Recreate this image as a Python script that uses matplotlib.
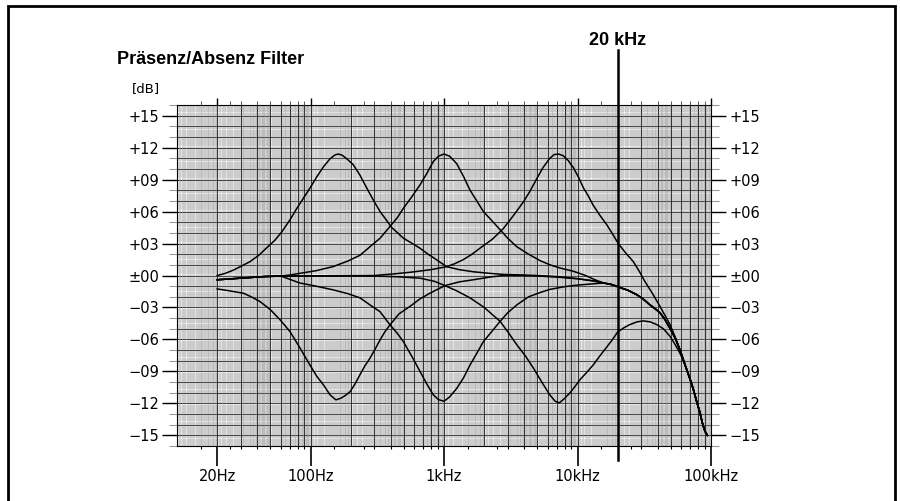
import numpy as np
import matplotlib
matplotlib.use('Agg')
import matplotlib.pyplot as plt
import matplotlib.transforms as mtransforms
from matplotlib.patches import Rectangle
from matplotlib.ticker import FixedLocator, NullFormatter

# ---- values (frequency in Hz, level in dB) ----
# shared start of the curves that sit on the 0 dB line at low frequencies
LOW_F = [20, 30, 45, 60]
LOW_DB = [-0.4, -0.25, -0.1, -0.05]
# shared high-frequency roll-off
HIGH_F = [15700, 18000, 20000, 24000, 27800, 31000, 34900, 38000, 41500, 45000, 49300, 54000,
          58600, 62000, 65800, 70000, 73800, 78000, 82800, 86000, 90000, 94000]
HIGH_DB = [-0.7, -0.85, -1.05, -1.4, -1.8, -2.2, -2.76, -3.1, -3.5, -4.1, -4.95, -5.9,
           -6.98, -7.9, -8.86, -9.8, -10.7, -11.8, -12.9, -13.8, -14.6, -15.0]

# boost / cut around 150 Hz
B1_F = [20, 23, 26.4, 30, 35.2, 41, 47, 54, 61, 70, 79, 89, 99, 112, 125, 140, 152, 161, 172, 185,
        209, 235, 264, 298, 332, 370, 406, 450, 496, 580, 661, 760, 850, 1047, 1300, 1660, 2200,
        2800, 3800, 5000, 7000, 10000, 13000]
B1_DB = [0.0, 0.2, 0.5, 0.85, 1.3, 1.9, 2.6, 3.3, 4.1, 5.2, 6.3, 7.3, 8.2, 9.3, 10.2, 10.95, 11.3, 11.4,
         11.3, 11.0, 10.4, 9.4, 8.2, 7.0, 6.0, 5.2, 4.5, 4.0, 3.5, 3.0, 2.56, 2.0, 1.6, 0.83, 0.55,
         0.35, 0.2, 0.1, 0.05, 0.0, -0.1, -0.3, -0.5]
C1_F = [20, 25, 31.4, 36, 41.9, 50, 59.2, 70.2, 83.4, 99, 112, 125, 140, 155, 170, 185, 198, 215,
        235, 255, 279, 305, 332, 360, 394, 460, 556, 660, 785, 1016, 1300, 1660, 2200, 2780, 3800,
        5000, 7000, 10000, 13000]
C1_DB = [-1.26, -1.45, -1.66, -2.0, -2.45, -3.2, -4.16, -5.26, -6.8, -8.4, -9.5, -10.26, -11.2, -11.67,
         -11.5, -11.2, -10.9, -10.2, -9.3, -8.5, -7.76, -6.9, -6.04, -5.3, -4.63, -3.6, -2.9, -2.2,
         -1.66, -0.95, -0.6, -0.4, -0.15, 0.0, 0.0, -0.05, -0.15, -0.3, -0.5]

# boost / cut around 1 kHz
B2_F = [70, 83, 110, 148, 190, 235, 279, 332, 394, 445, 496, 575, 661, 745, 832, 910, 1000, 1100,
        1245, 1400, 1567, 1760, 1973, 2300, 2632, 3000, 3510, 4300, 5240, 6224, 7400, 9300, 11500,
        13500]
B2_DB = [0.05, 0.2, 0.45, 0.84, 1.35, 1.9, 2.7, 3.5, 4.6, 5.4, 6.3, 7.4, 8.5, 9.6, 10.7, 11.2, 11.4,
         11.2, 10.5, 9.3, 8.0, 7.0, 6.0, 5.1, 4.3, 3.5, 2.7, 2.0, 1.4, 1.0, 0.7, 0.4, 0.0, -0.4]
C2_F = [83, 110, 148, 190, 235, 279, 332, 394, 445, 496, 575, 661, 745, 832, 910, 1000, 1100, 1245,
        1400, 1567, 1760, 1973, 2300, 2632, 3000, 3510, 4300, 5240, 6224, 8000, 10000, 12500]
C2_DB = [-0.7, -1.0, -1.35, -1.7, -2.1, -2.76, -3.4, -4.63, -5.4, -6.2, -7.6, -9.0, -10.2, -11.2,
         -11.65, -11.8, -11.4, -10.6, -9.6, -8.4, -7.3, -6.2, -5.2, -4.3, -3.5, -2.76, -2.0, -1.6,
         -1.3, -1.05, -0.9, -0.8]

# boost / cut around 7 kHz
B3_F = [300, 420, 556, 800, 1047, 1200, 1400, 1600, 1860, 2300, 2780, 3300, 3930, 4400, 4960, 5500,
        6200, 6700, 7200, 7800, 8500, 9330, 10200, 11100, 12000, 13100, 14800, 16600, 18300, 20200,
        23000, 26200, 29000, 32000, 36500, 41500, 45000, 49300, 54000, 58600, 65800, 73800]
B3_DB = [0.0, 0.15, 0.3, 0.55, 0.83, 1.1, 1.5, 1.95, 2.56, 3.4, 4.4, 5.6, 6.9, 7.9, 9.1, 10.1,
         11.0, 11.35, 11.4, 11.25, 10.8, 10.1, 9.2, 8.2, 7.5, 6.6, 5.6, 4.75, 3.9, 3.0,
         2.1, 1.3, 0.4, -0.57, -1.7, -2.9, -3.7, -4.6, -5.8, -7.0, -8.8, -10.7]
C3_F = [300, 450, 661, 850, 1016, 1250, 1567, 2000, 2632, 3050, 3510, 4100, 4680, 5400, 6200, 6800,
        7300, 7900, 8800, 9600, 10400, 11700, 13100, 14800, 16600, 18300, 20000, 22300, 24700,
        28000, 31100, 35000, 39200, 44000, 49300, 54000, 58600, 63000, 67700, 73800]
C3_DB = [-0.05, -0.12, -0.25, -0.55, -0.95, -1.45, -2.1, -3.0, -4.3, -5.4, -6.5, -7.6, -8.7, -10.0,
         -11.2, -11.8, -11.95, -11.6, -11.0, -10.4, -9.8, -9.1, -8.4, -7.5, -6.7, -6.0, -5.3, -4.9,
         -4.6, -4.35, -4.26, -4.35, -4.6, -5.0, -5.7, -6.5, -7.3, -8.2, -9.2, -10.7]

Y_TICKS = [15, 12, 9, 6, 3, 0, -3, -6, -9, -12, -15]
Y_LABELS = ['+15', '+12', '+09', '+06', '+03', '\u00b100', '\u221203', '\u221206', '\u221209', '\u221212', '\u221215']
X_TICKS = [20, 100, 1000, 10000, 100000]
X_LABELS = ['20Hz', '100Hz', '1kHz', '10kHz', '100kHz']
MARK_F = 20000


def tail(f, db, tf, tdb):
    # append the shared roll-off beyond the curve's own last point
    keep = [i for i, v in enumerate(tf) if v > f[-1]]
    return list(f) + [tf[i] for i in keep], list(db) + [tdb[i] for i in keep]


def head(f, db, hf, hdb):
    keep = [i for i, v in enumerate(hf) if v < f[0]]
    return [hf[i] for i in keep] + list(f), [hdb[i] for i in keep] + list(db)


W, H = 900, 501
fig = plt.figure(figsize=(W / 100, H / 100), dpi=100)
ax = fig.add_axes([177 / W, 1 - 446 / H, (711 - 177) / W, (446 - 105) / H])
ax.set_xscale('log')
ax.set_xlim(10, 100000)
ax.set_ylim(-16, 16)

# graph paper
ax.hlines(np.arange(-16, 16.01, 0.2), 10, 100000, color='#8a8a8a', lw=0.35, zorder=1)
ax.hlines(np.arange(-16, 17, 1), 10, 100000, color='#1a1a1a', lw=0.6, zorder=1)
for dec in [10, 100, 1000, 10000]:
    fine = np.concatenate([np.arange(1, 2, 0.05), np.arange(2, 5, 0.1), np.arange(5, 10, 0.2)]) * dec
    ax.vlines(fine, -16, 16, color='#8a8a8a', lw=0.35, zorder=1)
    ax.vlines(np.arange(1, 10) * dec, -16, 16, color='#1a1a1a', lw=0.6, zorder=1)

# response curves
curves = [
    tail(B1_F, B1_DB, HIGH_F, HIGH_DB),
    tail(C1_F, C1_DB, HIGH_F, HIGH_DB),
    tail(*head(B2_F, B2_DB, LOW_F, LOW_DB), HIGH_F, HIGH_DB),
    tail(*head(C2_F, C2_DB, LOW_F, LOW_DB), HIGH_F, HIGH_DB),
    tail(*head(B3_F, B3_DB, LOW_F, LOW_DB), HIGH_F, HIGH_DB),
    tail(*head(C3_F, C3_DB, LOW_F, LOW_DB), HIGH_F, HIGH_DB),
]
for f, db in curves:
    ax.plot(f, db, color='black', lw=1.1, zorder=3, solid_joinstyle='round')

for s in ax.spines.values():
    s.set_linewidth(0.8)

# y axis, labels on both sides
ax.yaxis.set_major_locator(FixedLocator(Y_TICKS))
ax.set_yticklabels(Y_LABELS)
ax.yaxis.set_minor_locator(FixedLocator([v for v in range(-16, 17) if v % 3 != 0]))
ax.tick_params(axis='y', which='major', left=True, right=True, labelleft=True, labelright=True,
               length=11, width=1.0, pad=2, labelsize=10.5)
ax.tick_params(axis='y', which='minor', left=True, right=True, length=6, width=0.8, color='#9a9a9a')

# bottom x axis
minor_f = []
for dec in [10, 100, 1000, 10000]:
    minor_f += [m * dec for m in [1.5, 2.5, 3, 4, 5, 6, 7, 8, 9]]
ax.xaxis.set_major_locator(FixedLocator(X_TICKS))
ax.set_xticklabels(X_LABELS)
ax.xaxis.set_minor_locator(FixedLocator(minor_f))
ax.xaxis.set_minor_formatter(NullFormatter())
ax.tick_params(axis='x', which='major', length=14.4, width=1.2, pad=2, labelsize=10.5)
ax.tick_params(axis='x', which='minor', length=2.5, width=0.8)

# top ticks
top = ax.twiny()
top.set_xscale('log')
top.set_xlim(ax.get_xlim())
top.xaxis.set_major_locator(FixedLocator(X_TICKS))
top.xaxis.set_minor_locator(FixedLocator(minor_f))
top.xaxis.set_major_formatter(NullFormatter())
top.xaxis.set_minor_formatter(NullFormatter())
top.tick_params(axis='x', which='major', length=5, width=1.0)
top.tick_params(axis='x', which='minor', length=3, width=0.7, color='#555555')
for s in top.spines.values():
    s.set_visible(False)

# 20 kHz marker
ax.axvline(MARK_F, ymin=-0.041, ymax=1.161, color='black', lw=1.8, clip_on=False, zorder=4)
trans = mtransforms.blended_transform_factory(ax.transData, ax.transAxes)
ax.text(MARK_F, 1.175, '20 kHz', transform=trans, ha='center', va='baseline',
        fontsize=13, fontweight='bold', family=['Liberation Sans', 'DejaVu Sans'])

# title and unit
fig.text(117 / W, 1 - 64 / H, 'Pr\u00e4senz/Absenz Filter', ha='left', va='baseline',
         fontsize=13, fontweight='bold', fontstretch='condensed',
         family=['Liberation Sans Narrow', 'Liberation Sans', 'DejaVu Sans'])
fig.text(132 / W, 1 - 92 / H, '[dB]', ha='left', va='baseline', fontsize=9.5)

# outer frame
fig.add_artist(Rectangle((8 / W, -0.05), (895 - 8) / W, 1.05 - 6 / H, fill=False, lw=2.0,
                         edgecolor='black', transform=fig.transFigure))

fig.savefig('out.png', dpi=100)
